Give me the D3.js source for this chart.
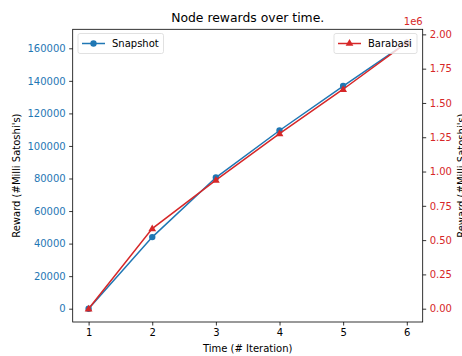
<!DOCTYPE html>
<html>
<head>
<meta charset="utf-8">
<script src="https://cdn.jsdelivr.net/npm/d3@7"></script>
<style>
  body { margin: 0; background: #fff; }
  svg { font-family: "DejaVu Sans", sans-serif; }
</style>
</head>
<body>
<div id="chart"></div>
<script>
// chart data
const iterations = [1, 2, 3, 4, 5, 6];
const snapshot = [0, 44000, 80600, 109500, 136800, 163500];
const barabasi = [0, 584000, 938000, 1277000, 1600000, 1940000];

const xTicks = [1, 2, 3, 4, 5, 6];
const leftTicks = [0, 20000, 40000, 60000, 80000, 100000, 120000, 140000, 160000];
const rightTicks = [0, 250000, 500000, 750000, 1000000, 1250000, 1500000, 1750000, 2000000];

const BLUE = '#1f77b4';
const RED = '#d62728';

// frame size and margins
const FRAME_WIDTH = 462;
const FRAME_HEIGHT = 356;
const MARGINS = {left: 72.7, right: 39.3, top: 29.3, bottom: 34};
const VIS_WIDTH = FRAME_WIDTH - MARGINS.left - MARGINS.right;
const VIS_HEIGHT = FRAME_HEIGHT - MARGINS.top - MARGINS.bottom;

const svg = d3.select('#chart')
  .append('svg')
    .attr('width', FRAME_WIDTH)
    .attr('height', FRAME_HEIGHT);

// matplotlib style 5% padding
function padded(vals) {
  const [lo, hi] = d3.extent(vals);
  const m = (hi - lo) * 0.05;
  return [lo - m, hi + m];
}

const xscale = d3.scaleLinear()
  .domain(padded(iterations))
  .range([MARGINS.left, MARGINS.left + VIS_WIDTH]);
const yLeft = d3.scaleLinear()
  .domain(padded(snapshot))
  .range([MARGINS.top + VIS_HEIGHT, MARGINS.top]);
const yRight = d3.scaleLinear()
  .domain(padded(barabasi))
  .range([MARGINS.top + VIS_HEIGHT, MARGINS.top]);

// axes
const xAxis = svg.append('g')
  .attr('transform', 'translate(0,' + (MARGINS.top + VIS_HEIGHT) + ')')
  .call(d3.axisBottom(xscale).tickValues(xTicks).tickSize(3.5).tickPadding(3.5).tickFormat(d3.format('d')));

const leftAxis = svg.append('g')
  .attr('transform', 'translate(' + MARGINS.left + ',0)')
  .call(d3.axisLeft(yLeft).tickValues(leftTicks).tickSize(3.5).tickPadding(3.5).tickFormat(d3.format('d')));

const rightAxis = svg.append('g')
  .attr('transform', 'translate(' + (MARGINS.left + VIS_WIDTH) + ',0)')
  .call(d3.axisRight(yRight).tickValues(rightTicks).tickSize(3.5).tickPadding(3.5)
    .tickFormat((d) => (d / 1e6).toFixed(2)));

[xAxis, leftAxis, rightAxis].forEach((g) => {
  g.attr('font-size', '10px').attr('font-family', '"DejaVu Sans", sans-serif');
  g.select('.domain').remove();
  g.selectAll('.tick line').attr('stroke', '#000').attr('stroke-width', 0.8);
});
xAxis.selectAll('.tick text').attr('fill', '#000');
leftAxis.selectAll('.tick text').attr('fill', BLUE);
rightAxis.selectAll('.tick text').attr('fill', RED);

// lines and markers
const lineLeft = d3.line()
  .x((d, i) => xscale(iterations[i]))
  .y((d) => yLeft(d));
const lineRight = d3.line()
  .x((d, i) => xscale(iterations[i]))
  .y((d) => yRight(d));

svg.append('path')
  .datum(snapshot)
  .attr('d', lineLeft)
  .attr('fill', 'none')
  .attr('stroke', BLUE)
  .attr('stroke-width', 1.5);

svg.selectAll('.dot')
  .data(snapshot)
  .enter()
  .append('circle')
    .attr('cx', (d, i) => xscale(iterations[i]))
    .attr('cy', (d) => yLeft(d))
    .attr('r', 3.2)
    .attr('fill', BLUE);

// legend box with line + marker sample
function legend(x, y, w, color, marker, label) {
  const g = svg.append('g').attr('transform', 'translate(' + x + ',' + y + ')');
  g.append('rect')
    .attr('width', w).attr('height', 20)
    .attr('rx', 2)
    .attr('fill', 'rgba(255,255,255,0.8)')
    .attr('stroke', '#d9d9d9').attr('stroke-width', 0.8);
  g.append('line')
    .attr('x1', 4).attr('x2', 27).attr('y1', 10).attr('y2', 10)
    .attr('stroke', color).attr('stroke-width', 1.5);
  g.append('path')
    .attr('transform', 'translate(15.5,10)')
    .attr('d', d3.symbol().type(marker).size(marker === d3.symbolCircle ? 32 : 26)())
    .attr('fill', color);
  g.append('text')
    .attr('x', 34).attr('y', 13.7)
    .attr('font-size', '10px')
    .attr('fill', '#000')
    .text(label);
}

legend(78, 33.5, 85.5, BLUE, d3.symbolCircle, 'Snapshot');

svg.append('path')
  .datum(barabasi)
  .attr('d', lineRight)
  .attr('fill', 'none')
  .attr('stroke', RED)
  .attr('stroke-width', 1.5);

svg.selectAll('.tri')
  .data(barabasi)
  .enter()
  .append('path')
    .attr('transform', (d, i) => 'translate(' + xscale(iterations[i]) + ',' + (yRight(d) + 0.5) + ')')
    .attr('d', d3.symbol().type(d3.symbolTriangle).size(26)())
    .attr('fill', RED);

legend(334, 33.5, 83, RED, d3.symbolTriangle, 'Barabasi');

// frame
svg.append('rect')
  .attr('x', MARGINS.left).attr('y', MARGINS.top)
  .attr('width', VIS_WIDTH).attr('height', VIS_HEIGHT)
  .attr('fill', 'none')
  .attr('stroke', '#000').attr('stroke-width', 0.8);

// texts
svg.append('text')
  .attr('x', MARGINS.left + VIS_WIDTH / 2)
  .attr('y', 22)
  .attr('text-anchor', 'middle')
  .attr('font-size', '12.4px')
  .text('Node rewards over time.');

svg.append('text')
  .attr('x', MARGINS.left + VIS_WIDTH / 2)
  .attr('y', 352)
  .attr('text-anchor', 'middle')
  .attr('font-size', '10px')
  .text('Time (# Iteration)');

svg.append('text')
  .attr('transform', 'translate(19.5,' + (MARGINS.top + VIS_HEIGHT / 2) + ') rotate(-90)')
  .attr('text-anchor', 'middle')
  .attr('font-size', '10px')
  .text("Reward (#Milli Satoshi's)");

svg.append('text')
  .attr('transform', 'translate(464.5,' + (MARGINS.top + VIS_HEIGHT / 2) + ') rotate(-90)')
  .attr('text-anchor', 'middle')
  .attr('font-size', '10px')
  .text("Reward (#Milli Satoshi's)");

svg.append('text')
  .attr('x', MARGINS.left + VIS_WIDTH)
  .attr('y', 25)
  .attr('text-anchor', 'end')
  .attr('font-size', '10px')
  .attr('fill', RED)
  .text('1e6');
</script>
</body>
</html>
